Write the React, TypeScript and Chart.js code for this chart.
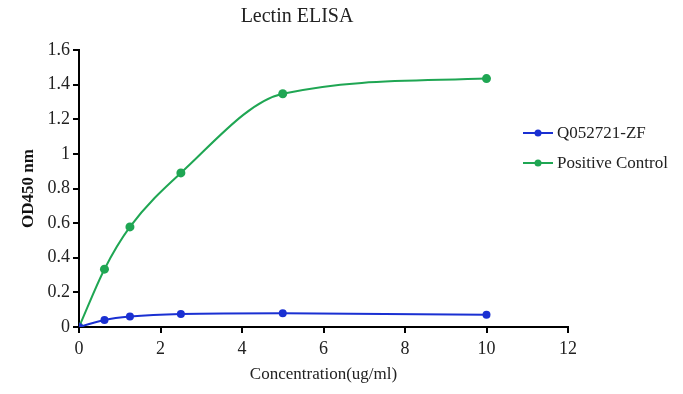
import React, { useEffect, useRef } from "react";
import { Chart, registerables } from "chart.js";
Chart.register(...registerables);

const concentrations = [0, 0.625, 1.25, 2.5, 5, 10];
const sampleValues = [0, 0.04, 0.06, 0.075, 0.079, 0.071];
const controlValues = [0, 0.334, 0.578, 0.89, 1.347, 1.435];
const seriesNames = ["Q052721-ZF", "Positive Control"];
const seriesColors = ["#1a30d2", "#1fa653"];
const chartTitle = "Lectin ELISA";
const xTitle = "Concentration(ug/ml)";
const yTitle = "OD450 nm";

const FONT = "'Liberation Serif', 'Times New Roman', serif";

const extrasPlugin = {
  id: "extras",
  afterDraw(chart: any) {
    const { ctx, chartArea } = chart;
    ctx.save();
    // title
    ctx.fillStyle = "#222";
    ctx.font = `20px ${FONT}`;
    ctx.textAlign = "center";
    ctx.textBaseline = "middle";
    ctx.fillText(chartTitle, chartArea.left + 218, 17);
    // legend
    const lx = chartArea.right - 45;
    const ys = [chartArea.top + 83, chartArea.top + 113];
    seriesNames.forEach((name, i) => {
      const y = ys[i];
      ctx.strokeStyle = seriesColors[i];
      ctx.lineWidth = 2;
      ctx.beginPath();
      ctx.moveTo(lx, y);
      ctx.lineTo(lx + 30, y);
      ctx.stroke();
      ctx.fillStyle = seriesColors[i];
      ctx.beginPath();
      ctx.arc(lx + 15, y, 3.5, 0, Math.PI * 2);
      ctx.fill();
      ctx.fillStyle = "#222";
      ctx.font = `17px ${FONT}`;
      ctx.textAlign = "left";
      ctx.textBaseline = "middle";
      ctx.fillText(name, lx + 34, y + 1);
    });
    ctx.restore();
  },
};

export default function App() {
  const ref = useRef<HTMLCanvasElement>(null);
  useEffect(() => {
    const mk = (vals: number[]) => concentrations.map((x, i) => ({ x, y: vals[i] }));
    const chart = new Chart(ref.current!, {
      type: "line",
      data: {
        datasets: [
          {
            label: seriesNames[0],
            data: mk(sampleValues),
            borderColor: seriesColors[0],
            backgroundColor: seriesColors[0],
            borderWidth: 2,
            pointRadius: 4,
            pointBorderWidth: 0,
            cubicInterpolationMode: "monotone",
          },
          {
            label: seriesNames[1],
            data: mk(controlValues),
            borderColor: seriesColors[1],
            backgroundColor: seriesColors[1],
            borderWidth: 2,
            pointRadius: 4.5,
            pointBorderWidth: 0,
            cubicInterpolationMode: "monotone",
          },
        ],
      },
      options: {
        animation: false,
        responsive: false,
        layout: { padding: { left: 18, right: 115, top: 50, bottom: 0 } },
        plugins: { legend: { display: false }, title: { display: false }, tooltip: { enabled: false } },
        scales: {
          x: {
            type: "linear",
            min: 0,
            max: 12,
            ticks: { stepSize: 2, color: "#222", font: { family: FONT, size: 18 }, padding: 5 },
            grid: { drawOnChartArea: false, drawTicks: true, tickLength: 6, color: "#000", lineWidth: 2 },
            border: { color: "#000", width: 2 },
            title: { display: true, text: xTitle, color: "#222", font: { family: FONT, size: 17 }, padding: { top: 4, bottom: 9 } },
            afterFit: (s: any) => { s.height = 67; },
          },
          y: {
            min: 0,
            max: 1.6,
            ticks: { stepSize: 0.2, color: "#222", font: { family: FONT, size: 18 }, padding: 3,
              callback: (v: any) => String(Math.round(Number(v) * 10) / 10) },
            grid: { drawOnChartArea: false, drawTicks: true, tickLength: 6, color: "#000", lineWidth: 2 },
            border: { color: "#000", width: 2 },
            title: { display: true, text: yTitle, color: "#111", font: { family: FONT, size: 17, weight: "bold" }, padding: { top: 0, bottom: 2 } },
            afterFit: (s: any) => { s.width = 61; },
          },
        },
      },
      plugins: [extrasPlugin],
    } as any);
    return () => chart.destroy();
  }, []);
  return (
    <div style={{ position: "fixed", left: 0, top: 0, width: 683, height: 394, background: "#fff" }}>
      <canvas ref={ref} width={683} height={394} />
    </div>
  );
}
